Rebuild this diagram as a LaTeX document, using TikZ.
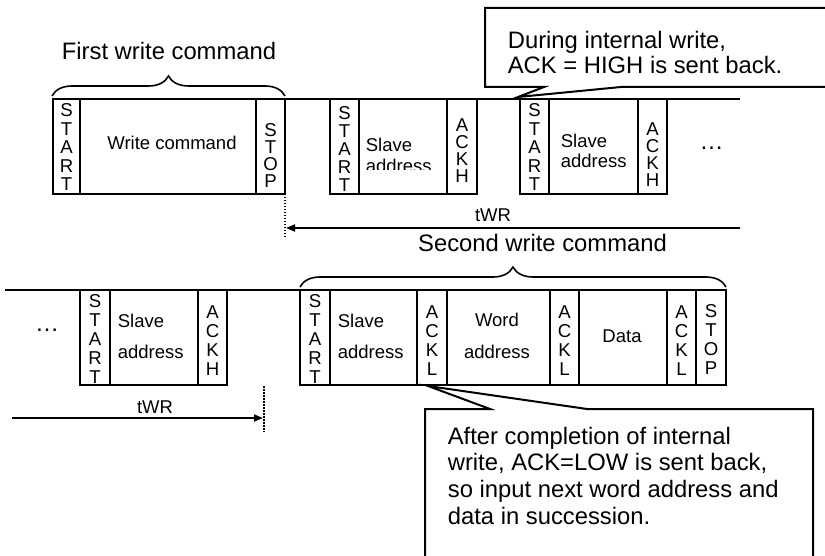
\documentclass[tikz,border=0pt]{standalone}
\usepackage{fontspec}
\setmainfont{Liberation Sans}
\usetikzlibrary{arrows.meta,decorations.pathreplacing}
\begin{document}
\begin{tikzpicture}[x=1pt,y=-1pt,
  line width=1.7pt,
  fld/.style={draw, line width=2pt, minimum height=95pt, inner sep=0pt, outer sep=0pt},
  vt/.style={font=\fontsize{18.6}{18.5}\selectfont, align=center, inner sep=0pt, anchor=north},
  vts/.style={font=\fontsize{18.6}{16.8}\selectfont, align=center, inner sep=0pt, anchor=north},
  vtb/.style={font=\fontsize{18.6}{19}\selectfont, align=center, inner sep=0pt, anchor=north},
  txt/.style={font=\fontsize{18.5}{20}\selectfont, inner sep=0pt},
  big/.style={font=\fontsize{23.8}{25}\selectfont, inner sep=0pt},
  bus/.style={line width=1.8pt},
  dotln/.style={line width=1.5pt, dash pattern=on 1.5pt off 1.5pt},
  arr/.style={line width=1.8pt, -{Triangle[length=9pt,width=7pt]}},
  brc/.style={line width=1.6pt, decorate, decoration={brace, amplitude=20pt}},
  callout/.style={draw, fill=white, line width=2pt, line join=miter}
]
\clip (0,0) rectangle (825,556);
\fill[white] (0,0) rectangle (825,556);

% bus lines
\coordinate (bus1a) at (52,99);
\coordinate (bus1b) at (740,99);
\coordinate (bus2a) at (5,290);
\coordinate (bus2b) at (726,290);
\draw[bus] (bus1a) -- (bus1b);
\draw[bus] (bus2a) -- (bus2b);

% top row fields
\node[fld, minimum width=27pt] (b1) at (66.5,146.5) {};
\node[fld, minimum width=176pt] (b2) at (168,146.5) {};
\node[fld, minimum width=29pt] (b3) at (270.5,146.5) {};
\node[fld, minimum width=29pt] (b4) at (344.5,146.5) {};
\node[fld, minimum width=88pt] (b5) at (403,146.5) {};
\node[fld, minimum width=30pt] (b6) at (462,146.5) {};
\node[fld, minimum width=29pt] (b7) at (534.5,146.5) {};
\node[fld, minimum width=89pt] (b8) at (593.5,146.5) {};
\node[fld, minimum width=29pt] (b9) at (652.5,146.5) {};

\node[vt] (t1) at (66.5,103) {S\\T\\A\\R\\T};
\node[txt, anchor=base] (t2) at (172,150) {Write command};
\node[vts] (t3) at (270.5,123) {S\\T\\O\\P};
\node[vt, font=\fontsize{18.6}{18}\selectfont] (t4) at (344.5,106) {S\\T\\A\\R\\T};
\begin{scope}
\clip (360,100) rectangle (446,170);
\node[txt, font=\fontsize{18.5}{21.5}\selectfont, align=left, anchor=north west] (t5) at (365,137) {Slave\\address};
\end{scope}
\node[vts] (t6) at (462,118) {A\\C\\K\\H};
\node[vt] (t7) at (534.5,103) {S\\T\\A\\R\\T};
\node[txt, font=\fontsize{18.5}{20}\selectfont, align=left, anchor=north west] (t8) at (560,133) {Slave\\address};
\node[vts] (t9) at (652.5,122) {A\\C\\K\\H};
\node[font=\fontsize{24}{24}\selectfont, inner sep=0pt] (dots1) at (711.5,148) {…};

% bottom row fields
\node[fld, minimum width=30pt] (c1) at (95,337.5) {};
\node[fld, minimum width=88pt] (c2) at (154,337.5) {};
\node[fld, minimum width=29pt] (c3) at (212.5,337.5) {};
\node[fld, minimum width=30pt] (c4) at (315,337.5) {};
\node[fld, minimum width=87pt] (c5) at (373.5,337.5) {};
\node[fld, minimum width=30pt] (c6) at (432,337.5) {};
\node[fld, minimum width=103pt] (c7) at (498.5,337.5) {};
\node[fld, minimum width=29pt] (c8) at (564.5,337.5) {};
\node[fld, minimum width=88pt] (c9) at (623,337.5) {};
\node[fld, minimum width=29pt] (c10) at (681.5,337.5) {};
\node[fld, minimum width=30pt] (c11) at (711,337.5) {};

\node[vtb, font=\fontsize{18.6}{18.8}\selectfont] (u1) at (95,294) {S\\T\\A\\R\\T};
\node[txt, font=\fontsize{18.5}{31.5}\selectfont, align=left, anchor=north west] (u2) at (117,313) {Slave\\address};
\node[vtb] (u3) at (212.5,305) {A\\C\\K\\H};
\node[vtb, font=\fontsize{18.6}{18.8}\selectfont] (u4) at (315,294) {S\\T\\A\\R\\T};
\node[txt, font=\fontsize{18.5}{31.5}\selectfont, align=left, anchor=north west] (u5) at (337,313) {Slave\\address};
\node[vtb] (u6) at (432,305) {A\\C\\K\\L};
\node[txt, font=\fontsize{18.5}{31.5}\selectfont, align=center, anchor=north] (u7) at (497,312.5) {Word\\address};
\node[vtb] (u8) at (564.5,305) {A\\C\\K\\L};
\node[txt, anchor=base] (u9) at (622,342.7) {Data};
\node[vtb] (u10) at (681.5,305) {A\\C\\K\\L};
\node[vtb] (u11) at (711,304) {S\\T\\O\\P};
\node[font=\fontsize{24}{24}\selectfont, inner sep=0pt] (dots2) at (47,330) {…};

% dotted markers and tWR arrows
\coordinate (d1a) at (285,194);
\coordinate (d1b) at (285,238);
\coordinate (d2a) at (264,386);
\coordinate (d2b) at (264,432);
\draw[dotln] (d1a) -- (d1b);
\draw[dotln] (d2a) -- (d2b);
\coordinate (a1s) at (740,228);
\coordinate (a1e) at (286,228);
\coordinate (a2s) at (12,418);
\coordinate (a2e) at (263,418);
\draw[arr] (a1s) -- (a1e);
\draw[arr] (a2s) -- (a2e);
\node[txt, anchor=base] (tw1) at (493,222) {tWR};
\node[txt, anchor=base] (tw2) at (155,413) {tWR};

% braces
\coordinate (br1a) at (52,96);
\coordinate (br1b) at (285,96);
\coordinate (br2a) at (300,287);
\coordinate (br2b) at (726,287);
\draw[brc] (br1a) -- (br1b);
\draw[brc] (br2a) -- (br2b);
\node[big, anchor=base] (fw) at (169,60) {First write command};
\node[big, anchor=base] (sw) at (542.5,251.5) {Second write command};

% callouts
\draw[callout] (485,8) -- (840,8) -- (840,87) -- (621,87) -- (518,97) -- (544,87) -- (485,87) -- cycle;
\node[big, align=left, anchor=north west] (co1) at (507,30) {During internal write,\\ACK = HIGH is sent back.};
\draw[callout] (425,409) -- (490,409) -- (428,386) -- (587,409) -- (813,409) -- (813,570) -- (425,570) -- cycle;
\node[big, font=\fontsize{23.8}{26.7}\selectfont, align=left, anchor=north west] (co2) at (447,426) {After completion of internal\\write, ACK=LOW is sent back,\\so input next word address and\\data in succession.};
\end{tikzpicture}
\end{document}
